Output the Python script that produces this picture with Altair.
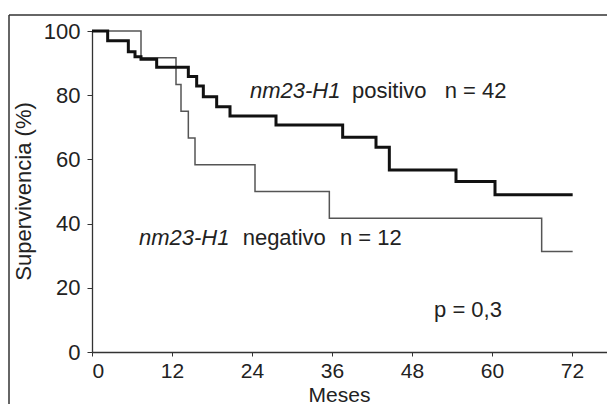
import altair as alt
import pandas as pd

# Kaplan-Meier curves
pos_time = [0, 2.35, 5.45, 6.45, 7.35, 9.7, 14.45, 15.7, 16.7, 18.7, 20.7, 27.6, 37.6, 42.6, 44.6, 54.6, 60.45, 72.1]
pos_surv = [100, 97.0, 93.5, 92.0, 91.2, 88.7, 85.8, 82.9, 79.5, 76.4, 73.5, 70.7, 66.9, 63.8, 56.7, 53.1, 49.0, 49.0]

neg_time = [0, 7.35, 12.6, 13.35, 14.45, 15.45, 24.45, 35.6, 67.45, 72.1]
neg_surv = [100, 91.7, 83.3, 75.0, 66.7, 58.3, 50.0, 41.7, 31.3, 31.3]

x_ticks = [0, 12, 24, 36, 48, 60, 72]
y_ticks = [0, 20, 40, 60, 80, 100]

# annotations (data coordinates)
ital_text = ["nm23-H1", "nm23-H1"]
ital_x = [23.7, 7.05]
ital_y = [81.3, 35.5]
word_text = ["positivo", "negativo"]
word_x = [39.0, 22.6]
word_y = [81.3, 35.5]
n_text = ["n = 42", "n = 12"]
n_x = [52.9, 37.2]
n_y = [81.3, 35.5]
p_text = ["p = 0,3"]
p_x = [56.4]
p_y = [13.1]

FONT = "Liberation Sans"
W, H = 515, 321
XMAX = 77.25

pos_df = pd.DataFrame({"t": pos_time, "s": pos_surv})
neg_df = pd.DataFrame({"t": neg_time, "s": neg_surv})

xs = alt.Scale(domain=[0, XMAX], nice=False, zero=False)
ys = alt.Scale(domain=[0, 100], nice=False)

x_axis = alt.Axis(values=x_ticks, title="Meses", grid=False, tickSize=4, labelPadding=4,
                  labelFontSize=21, titleFontSize=21, labelFont=FONT, titleFont=FONT,
                  labelColor="#222", titleColor="#222", titleFontWeight="normal",
                  domainColor="#333", tickColor="#333", domainWidth=1.3,
                  titleX=247, titleY=49, titleAnchor="middle", titleBaseline="alphabetic")
y_axis = alt.Axis(values=y_ticks, title="Supervivencia (%)", grid=False, tickSize=5, labelPadding=7,
                  labelFontSize=22, titleFontSize=22, labelFont=FONT, titleFont=FONT,
                  labelColor="#222", titleColor="#222", titleFontWeight="normal",
                  domainColor="#333", tickColor="#333", domainWidth=1.3,
                  titleX=-69, titleY=160, titleAngle=-90, titleAlign="center", titleBaseline="middle")

neg_line = alt.Chart(neg_df).mark_line(interpolate="step-after", color="#555", strokeWidth=1.5).encode(
    x=alt.X("t:Q", scale=xs, axis=x_axis),
    y=alt.Y("s:Q", scale=ys, axis=y_axis),
)
pos_line = alt.Chart(pos_df).mark_line(interpolate="step-after", color="#111", strokeWidth=3).encode(
    x=alt.X("t:Q", scale=xs),
    y=alt.Y("s:Q", scale=ys),
)

def txt(xv, yv, lv, **kw):
    return alt.Chart(pd.DataFrame({"x": xv, "y": yv, "l": lv})).mark_text(
        font=FONT, fontSize=22, baseline="middle", color="#222", **kw
    ).encode(x=alt.X("x:Q", scale=xs), y=alt.Y("y:Q", scale=ys), text="l:N")

ital = txt(ital_x, ital_y, ital_text, align="left", fontStyle="italic")
word = txt(word_x, word_y, word_text, align="left")
ntxt = txt(n_x, n_y, n_text, align="left")
ptxt = txt(p_x, p_y, p_text, align="center")

# outer frame (top and left edges visible in the picture)
frame_top = alt.Chart(pd.DataFrame({"a": [0]})).mark_rule(color="#333", strokeWidth=1.5).encode(
    x=alt.value(-83), x2=alt.value(519), y=alt.value(-16))
frame_left = alt.Chart(pd.DataFrame({"a": [0]})).mark_rule(color="#333", strokeWidth=1.5).encode(
    x=alt.value(-83), y=alt.value(-16), y2=alt.value(400))

chart = alt.layer(frame_top, frame_left, neg_line, pos_line, ital, word, ntxt, ptxt).properties(
    width=W, height=H,
    autosize=alt.AutoSizeParams(type="none"),
    padding={"left": 84, "top": 23, "right": 0, "bottom": 52},
    background="white",
).configure_view(stroke=None)

chart.save("out.html", embed_options={"renderer": "svg", "actions": False})
